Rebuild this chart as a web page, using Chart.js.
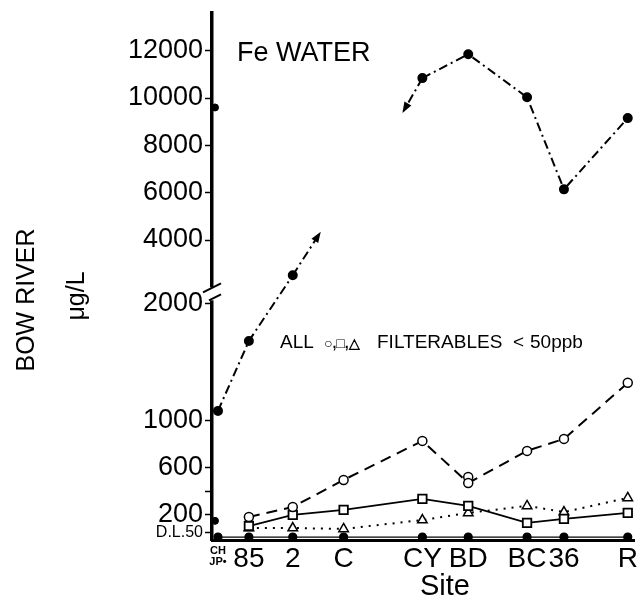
<!DOCTYPE html>
<html>
<head>
<meta charset="utf-8">
<title>Fe WATER</title>
<script src="https://cdn.jsdelivr.net/npm/chart.js@4.4.0/dist/chart.umd.min.js"></script>
<style>
  html, body { margin: 0; padding: 0; background: #fff; }
  #wrap { width: 643px; height: 600px; }
</style>
</head>
<body>
<div id="wrap"><canvas id="feChart"></canvas></div>
<script>
// sampling sites, downstream order, with distance along the river (km)
const sites = ['CH/JP', '85', '2', 'C', 'CY', 'BD', 'BC', '36', 'R'];
const siteKm = [3, 18.5, 40.5, 66, 105.5, 128.5, 158, 176.5, 208.5];

// Fe in water, ug/L
const totalFe = [1085, 1680, 2510, null, 10840, 11850, 10030, 6140, 9150];
const circleFe = [null, 183, 268, 498, 830, 472, 745, 847, 1324];
const squareFe = [null, 106, 200, 243, 336, 277, 132, 166, 217];
const triangleFe = [null, 89, 89, 81, 157, 217, 277, 225, 345];
const filterableFe = [12, 12, 12, 12, 12, 12, 12, 12, 12];

// loose points: the two extra CH/JP values and the second BD circle
const chExtra = [150, 9600];
const bdExtra = [523];

// the total line breaks off toward C with an arrow on each side
const arrowUpTip = { km: 54, value: 4280 };
const arrowDownTip = { km: 96, value: 9440 };

const yTicks = [50, 200, 400, 600, 1000, 2000, 4000, 6000, 8000, 10000, 12000];
const yLabels = { 50: 'D.L.50', 200: '200', 600: '600', 1000: '1000', 2000: '2000',
  4000: '4000', 6000: '6000', 8000: '8000', 10000: '10000', 12000: '12000' };

const FONT = "'Liberation Sans', Arial, sans-serif";

// y axis squeezed above 2000 with a small gap at the break
const BREAK_AT = 2000;
const BREAK_GAP = 136;
const UPPER_RATIO = 0.2013;
function toAxis(v) {
  return v <= BREAK_AT ? v : BREAK_AT + BREAK_GAP + (v - BREAK_AT) * UPPER_RATIO;
}
function fromAxis(d) {
  if (d <= BREAK_AT) return d;
  if (d < BREAK_AT + BREAK_GAP) return BREAK_AT;
  return BREAK_AT + (d - BREAK_AT - BREAK_GAP) / UPPER_RATIO;
}

class BrokenScale extends Chart.LinearScale {
  static id = 'broken';
  static defaults = Chart.LinearScale.defaults;
  determineDataLimits() {
    this.min = toAxis(this.options.min);
    this.max = toAxis(this.options.max);
  }
  buildTicks() {
    return yTicks.map(v => ({ value: v }));
  }
  getPixelForValue(v) {
    return v === null ? NaN : super.getPixelForValue(toAxis(v));
  }
  getValueForPixel(p) {
    return fromAxis(super.getValueForPixel(p));
  }
}
Chart.register(BrokenScale);

function pts(values) {
  return values.map((v, i) => ({ x: siteKm[i], y: v }));
}

const annotations = {
  id: 'annotations',
  afterDraw(chart) {
    const { ctx } = chart;
    const y = chart.scales.y;
    const left = chart.chartArea.left;
    ctx.save();

    // axis break
    const yUp = y.getPixelForValue(BREAK_AT + 0.01);
    const yLow = y.getPixelForValue(BREAK_AT);
    ctx.fillStyle = '#fff';
    ctx.fillRect(left - 4, yUp, 8, yLow - yUp - 3);
    ctx.strokeStyle = '#000';
    ctx.lineWidth = 2;
    ctx.beginPath();
    ctx.moveTo(left - 9, yUp + 5); ctx.lineTo(left + 9, yUp - 4);
    ctx.moveTo(left - 3, yLow - 3); ctx.lineTo(left + 9, yLow - 9);
    ctx.stroke();

    // arrow heads at the end of the two broken-off segments
    ctx.fillStyle = '#000';
    [5, 6].forEach(i => {
      const d = chart.getDatasetMeta(i).data;
      const a = d[d.length - 2], b = d[d.length - 1];
      const ang = Math.atan2(b.y - a.y, b.x - a.x);
      ctx.save();
      ctx.translate(b.x, b.y);
      ctx.rotate(ang);
      ctx.beginPath();
      ctx.moveTo(2, 0); ctx.lineTo(-9, -4); ctx.lineTo(-9, 4);
      ctx.closePath();
      ctx.fill();
      ctx.restore();
    });

    ctx.fillStyle = '#000';
    ctx.textBaseline = 'alphabetic';
    ctx.textAlign = 'left';
    ctx.font = '27px ' + FONT;
    ctx.fillText('Fe WATER', 237, 61);

    // note on the filtered samples
    ctx.font = '19px ' + FONT;
    ctx.fillText('ALL', 280, 348);
    ctx.fillText('FILTERABLES', 377, 348);
    ctx.fillText('<', 513, 348);
    ctx.fillText('50ppb', 530, 348);
    ctx.font = 'bold 14px ' + FONT;
    ctx.fillText('\u25CB,\u25A1,\u25B3', 324, 348);

    ctx.font = '29px ' + FONT;
    ctx.textAlign = 'center';
    ctx.fillText('Site', 445, 595);

    // y axis title
    ctx.font = '25px ' + FONT;
    ctx.textBaseline = 'middle';
    ctx.save();
    ctx.translate(27, 300);
    ctx.rotate(-Math.PI / 2);
    ctx.fillText('BOW RIVER', 0, 0);
    ctx.restore();
    ctx.save();
    ctx.translate(77, 296);
    ctx.rotate(-Math.PI / 2);
    ctx.fillText('\u03BCg/L', 0, 0);
    ctx.restore();

    ctx.restore();
  }
};

const dashDot = [9, 4, 2, 4];

new Chart(document.getElementById('feChart'), {
  type: 'line',
  data: {
    datasets: [
      {
        data: pts(totalFe), borderColor: '#000', borderWidth: 2, borderDash: dashDot,
        pointRadius: 4, pointBackgroundColor: '#000', pointBorderColor: '#000'
      },
      {
        data: pts(circleFe), borderColor: '#000', borderWidth: 2, borderDash: [11, 7],
        pointStyle: 'circle', pointRadius: 4.5, pointBorderWidth: 1.5,
        pointBackgroundColor: '#fff', pointBorderColor: '#000'
      },
      {
        data: pts(squareFe), borderColor: '#000', borderWidth: 1.8,
        pointStyle: 'rect', pointRadius: 6, pointBorderWidth: 1.8,
        pointBackgroundColor: '#fff', pointBorderColor: '#000'
      },
      {
        data: pts(triangleFe), borderColor: '#000', borderWidth: 2, borderDash: [2, 6],
        pointStyle: 'triangle', pointRadius: 5.5, pointBorderWidth: 1.5,
        pointBackgroundColor: '#fff', pointBorderColor: '#000'
      },
      {
        data: pts(filterableFe), borderColor: '#000', borderWidth: 1.2,
        pointRadius: 4, pointBackgroundColor: '#000', pointBorderColor: '#000'
      },
      {
        data: [{ x: siteKm[2], y: totalFe[2] }, { x: arrowUpTip.km, y: arrowUpTip.value }],
        borderColor: '#000', borderWidth: 2, borderDash: dashDot, pointRadius: 0
      },
      {
        data: [{ x: siteKm[4], y: totalFe[4] }, { x: arrowDownTip.km, y: arrowDownTip.value }],
        borderColor: '#000', borderWidth: 2, borderDash: dashDot, pointRadius: 0
      },
      {
        data: chExtra.map(v => ({ x: siteKm[0] - 1.5, y: v })), showLine: false,
        pointRadius: 3.5, pointBackgroundColor: '#000', pointBorderColor: '#000'
      },
      {
        data: bdExtra.map(v => ({ x: siteKm[5], y: v })), showLine: false,
        pointStyle: 'circle', pointRadius: 4.5, pointBorderWidth: 1.5,
        pointBackgroundColor: '#fff', pointBorderColor: '#000'
      }
    ]
  },
  options: {
    responsive: true,
    maintainAspectRatio: false,
    animation: false,
    clip: false,
    layout: { padding: { top: 12, right: 7, left: 0, bottom: 0 } },
    plugins: { legend: { display: false }, tooltip: { enabled: false } },
    elements: { line: { tension: 0 } },
    scales: {
      x: {
        type: 'linear', min: 0, max: 212,
        afterBuildTicks: s => { s.ticks = siteKm.map(v => ({ value: v })); },
        afterFit: s => { s.height = 60; },
        grid: { display: false, drawTicks: false },
        border: { color: '#000', width: 3 },
        ticks: {
          color: '#000', padding: 5, autoSkip: false, maxRotation: 0,
          callback: (v, i) => i === 0 ? ['CH', 'JP\u2022'] : sites[i],
          font: c => c.index === 0
            ? { family: FONT, size: 11, weight: 'bold', lineHeight: 1.05 }
            : { family: FONT, size: 28, lineHeight: 1 }
        }
      },
      y: {
        type: 'broken', min: -13, max: 13600,
        afterFit: s => { s.width = 212; },
        grid: { drawOnChartArea: false, drawTicks: true, tickLength: 7, tickColor: '#000', tickWidth: 1.5 },
        border: { color: '#000', width: 3.5 },
        ticks: {
          color: '#000', padding: 2, autoSkip: false,
          callback: v => yLabels[v] || '',
          font: c => c.tick && c.tick.value === 50
            ? { family: FONT, size: 16, lineHeight: 0.8 }
            : { family: FONT, size: 27, lineHeight: 0.8 }
        }
      }
    }
  },
  plugins: [annotations]
});
</script>
</body>
</html>
